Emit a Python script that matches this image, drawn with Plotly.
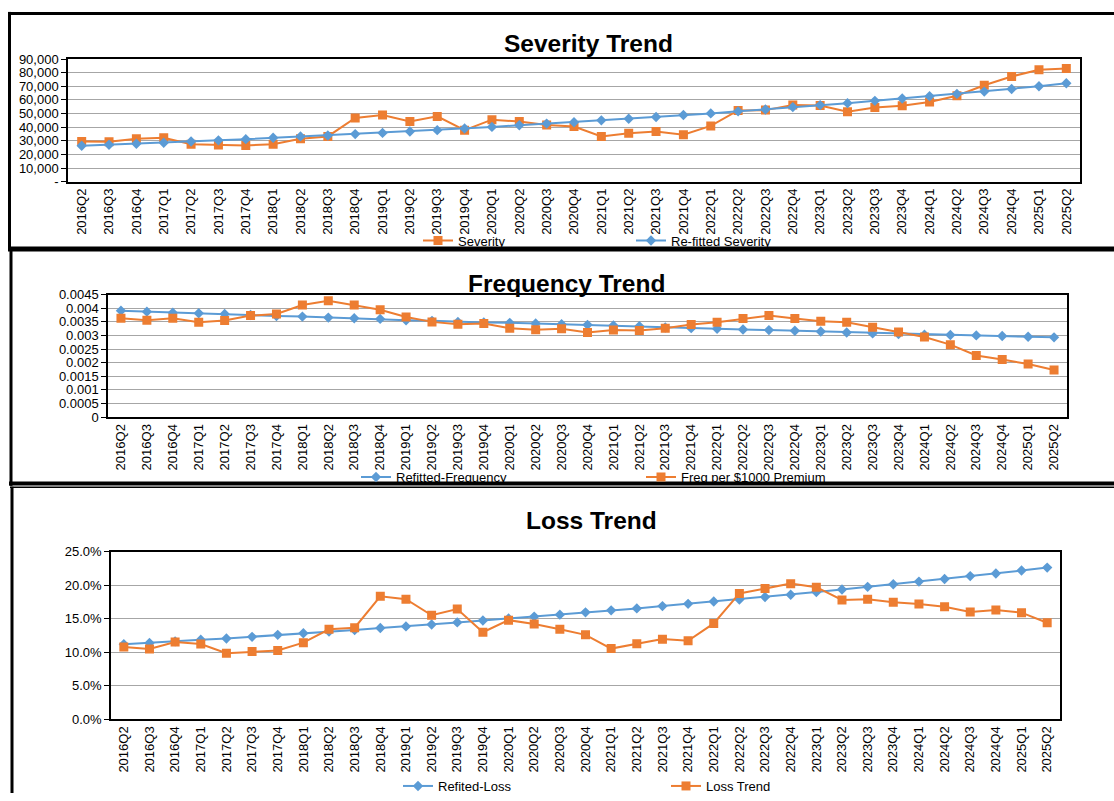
import plotly.graph_objects as go

quarters = ["2016Q2", "2016Q3", "2016Q4",
            "2017Q1", "2017Q2", "2017Q3", "2017Q4",
            "2018Q1", "2018Q2", "2018Q3", "2018Q4",
            "2019Q1", "2019Q2", "2019Q3", "2019Q4",
            "2020Q1", "2020Q2", "2020Q3", "2020Q4",
            "2021Q1", "2021Q2", "2021Q3", "2021Q4",
            "2022Q1", "2022Q2", "2022Q3", "2022Q4",
            "2023Q1", "2023Q2", "2023Q3", "2023Q4",
            "2024Q1", "2024Q2", "2024Q3", "2024Q4",
            "2025Q1", "2025Q2"]

severity = [29500, 29300, 31500, 32200, 27400, 26900, 26600, 27400, 31500, 33200,
            46700, 48900, 44100, 47900, 37800, 45500, 44100, 41600, 40400, 33200,
            35600, 36800, 34400, 40900, 52300, 52500, 56200, 55900, 51300, 54500,
            55700, 58400, 63000, 70700, 77200, 82100, 83100]
refitted_severity = [26400, 27100, 27800, 28600, 29500, 30300, 31200, 32200, 33200, 33900,
                     34900, 35800, 36800, 37800, 39000, 40200, 41400, 42600, 43600, 45000,
                     46200, 47500, 48900, 50100, 51600, 53000, 54700, 56200, 57600, 59300,
                     61000, 62700, 64400, 66100, 68000, 70000, 72200]

refitted_frequency = [0.003907, 0.003871, 0.003835, 0.003811, 0.003787, 0.003750, 0.003714,
                      0.003690, 0.003653, 0.003630, 0.003605, 0.003557, 0.003533, 0.003496,
                      0.003472, 0.003460, 0.003436, 0.003412, 0.003387, 0.003363, 0.003339,
                      0.003291, 0.003266, 0.003242, 0.003218, 0.003194, 0.003170, 0.003145,
                      0.003109, 0.003073, 0.003049, 0.003024, 0.003012, 0.003000, 0.002976,
                      0.002952, 0.002928]
freq_per_1000 = [0.003629, 0.003557, 0.003630, 0.003484, 0.003545, 0.003726, 0.003787,
                 0.004113, 0.004270, 0.004113, 0.003944, 0.003678, 0.003496, 0.003412,
                 0.003436, 0.003266, 0.003206, 0.003242, 0.003109, 0.003194, 0.003182,
                 0.003266, 0.003399, 0.003484, 0.003617, 0.003726, 0.003617, 0.003520,
                 0.003484, 0.003303, 0.003121, 0.002940, 0.002661, 0.002262, 0.002117,
                 0.001948, 0.001730]

refited_loss = [11.19, 11.38, 11.63, 11.87, 12.06, 12.30, 12.60, 12.84, 13.08, 13.33,
                13.62, 13.86, 14.15, 14.45, 14.74, 15.03, 15.32, 15.61, 15.95, 16.25,
                16.54, 16.88, 17.22, 17.56, 17.85, 18.24, 18.58, 18.97, 19.36, 19.75,
                20.14, 20.53, 20.91, 21.35, 21.74, 22.18, 22.62]
loss_trend = [10.80, 10.50, 11.53, 11.24, 9.87, 10.12, 10.26, 11.43, 13.42, 13.67,
              18.34, 17.90, 15.52, 16.44, 12.99, 14.79, 14.20, 13.42, 12.60, 10.55,
              11.28, 11.96, 11.72, 14.30, 18.77, 19.50, 20.23, 19.70, 17.80, 17.90,
              17.46, 17.20, 16.78, 16.00, 16.30, 15.90, 14.40]

sev_ticks = [0, 10000, 20000, 30000, 40000, 50000, 60000, 70000, 80000, 90000]
sev_ticktext = ["-", "10,000", "20,000", "30,000", "40,000", "50,000",
                "60,000", "70,000", "80,000", "90,000"]
freq_ticks = [0, 0.0005, 0.001, 0.0015, 0.002, 0.0025, 0.003, 0.0035, 0.004, 0.0045]
freq_ticktext = ["0", "0.0005", "0.001", "0.0015", "0.002", "0.0025",
                 "0.003", "0.0035", "0.004", "0.0045"]
loss_ticks = [0, 5, 10, 15, 20, 25]
loss_ticktext = ["0.0%", "5.0%", "10.0%", "15.0%", "20.0%", "25.0%"]

W, H = 1114, 801
ORANGE = "#ED7D31"
BLUE = "#5B9BD5"
FONT = "Liberation Sans, Arial, sans-serif"
N = len(quarters)
TICK_EVERY = 3  # Excel tick-mark interval on the category axes


def px(x):
    return x / W


def py(y):
    return 1 - y / H


fig = go.Figure()


def orange_trace(name, y, xa, ya, legend):
    return go.Scatter(x=quarters, y=y, name=name, mode="lines+markers",
                      line=dict(color=ORANGE, width=2),
                      marker=dict(symbol="square", size=9, color=ORANGE),
                      xaxis=xa, yaxis=ya, legend=legend)


def blue_trace(name, y, xa, ya, legend):
    return go.Scatter(x=quarters, y=y, name=name, mode="lines+markers",
                      line=dict(color=BLUE, width=2),
                      marker=dict(symbol="diamond", size=8, color=BLUE),
                      xaxis=xa, yaxis=ya, legend=legend)


fig.add_trace(orange_trace("Severity", severity, "x", "y", "legend"))
fig.add_trace(blue_trace("Re-fitted Severity", refitted_severity, "x", "y", "legend"))
fig.add_trace(blue_trace("Refitted-Frequency", refitted_frequency, "x2", "y2", "legend2"))
fig.add_trace(orange_trace("Freq per $1000 Premium", freq_per_1000, "x2", "y2", "legend2"))
fig.add_trace(blue_trace("Refited-Loss", refited_loss, "x3", "y3", "legend3"))
fig.add_trace(orange_trace("Loss Trend", loss_trend, "x3", "y3", "legend3"))

xcommon = dict(type="category", range=[-0.5, N - 0.5], tickangle=-90,
               showgrid=False, showline=True, linecolor="#000000", linewidth=1.5,
               mirror=True, ticks="", tickfont=dict(size=13, color="#000000", family=FONT),
               fixedrange=True)
ycommon = dict(showgrid=True, gridcolor="#A6A6A6", gridwidth=1, showline=True,
               linecolor="#000000", linewidth=1.5, mirror=True, ticks="outside",
               ticklen=5, tickcolor="#000000", zeroline=False,
               tickfont=dict(size=13, color="#000000", family=FONT), fixedrange=True)

# overlay axes that only draw Excel-style tick marks between category groups
tick_marks = [-0.5 + TICK_EVERY * k for k in range(int((N - 1) / TICK_EVERY) + 1)]
tickonly = dict(type="linear", range=[-0.5, N - 0.5], tickmode="array", tickvals=tick_marks,
                ticks="outside", ticklen=5, tickwidth=1, tickcolor="#000000",
                showticklabels=False, showgrid=False, showline=False, zeroline=False,
                side="bottom", fixedrange=True)

# plot areas (pixel boxes: left, right, top, bottom)
p1 = (68, 1080, 53, 178)
p2 = (108, 1067, 293, 418)
p3 = (111, 1060, 555, 726)

leg = dict(orientation="h", xanchor="left", yanchor="middle", entrywidthmode="pixels",
           font=dict(size=13, family=FONT, color="#000000"), bgcolor="rgba(0,0,0,0)",
           itemwidth=30)

fig.update_layout(
    width=W, height=H, margin=dict(l=0, r=0, t=0, b=0),
    paper_bgcolor="white", plot_bgcolor="white",
    font=dict(family=FONT, color="#000000"),
    xaxis=dict(xcommon, domain=[px(p1[0]), px(p1[1])], anchor="y"),
    yaxis=dict(ycommon, domain=[py(p1[3]), py(p1[2])], anchor="x",
               range=[0, 90000], tickvals=sev_ticks, ticktext=sev_ticktext),
    xaxis2=dict(xcommon, domain=[px(p2[0]), px(p2[1])], anchor="y2"),
    yaxis2=dict(ycommon, domain=[py(p2[3]), py(p2[2])], anchor="x2",
                range=[0, 0.0045], tickvals=freq_ticks, ticktext=freq_ticktext),
    xaxis3=dict(xcommon, domain=[px(p3[0]), px(p3[1])], anchor="y3"),
    yaxis3=dict(ycommon, domain=[py(p3[3]), py(p3[2])], anchor="x3",
                range=[0, 25], tickvals=loss_ticks, ticktext=loss_ticktext),
    xaxis4=dict(tickonly, overlaying="x", anchor="y"),
    xaxis5=dict(tickonly, overlaying="x2", anchor="y2"),
    xaxis6=dict(tickonly, overlaying="x3", anchor="y3"),
    legend=dict(leg, x=px(418), y=py(238), entrywidth=168),
    legend2=dict(leg, x=px(356), y=py(479), entrywidth=240),
    legend3=dict(leg, x=px(398), y=py(794), entrywidth=223),
    showlegend=True,
)

titles = [("Severity Trend", 588, 37), ("Frequency Trend", 566, 282), ("Loss Trend", 591, 523)]
for text, cx, cy in titles:
    fig.add_annotation(text="<b>%s</b>" % text, xref="paper", yref="paper",
                       x=px(cx), y=py(cy), xanchor="center", yanchor="middle",
                       showarrow=False, font=dict(size=24.5, family=FONT, color="#000000"))


# panel borders
def hline(x0, x1, y, w):
    fig.add_shape(type="line", xref="paper", yref="paper", x0=px(x0), x1=px(x1),
                  y0=py(y), y1=py(y), line=dict(color="#000000", width=w))


def vline(x, y0, y1, w):
    fig.add_shape(type="line", xref="paper", yref="paper", x0=px(x), x1=px(x),
                  y0=py(y0), y1=py(y1), line=dict(color="#000000", width=w))


hline(8, 1114, 6.5, 3)
vline(9.5, 5, 247, 3)
hline(8, 1114, 246.5, 5)
vline(11, 247, 488, 3)
hline(9, 1114, 485.5, 4)
hline(10, 1114, 489.5, 1.5)
vline(12, 489, 801, 3)

fig.write_html("out.html", config={"displayModeBar": False},
               post_script="document.body.style.margin='0';"
                           "document.body.style.overflow='hidden';")
